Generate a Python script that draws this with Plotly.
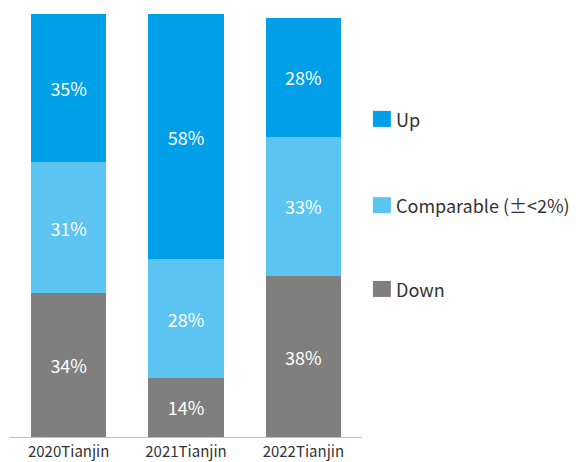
import plotly.graph_objects as go

categories = ["2020Tianjin", "2021Tianjin", "2022Tianjin"]
down = [34, 14, 38]
comparable = [31, 28, 33]
up = [35, 58, 28]
series_names = ["Down", "Comparable (±<2%)", "Up"]
colors = ["#7f7f7f", "#5bc4f1", "#00a0e9"]

FONT = "Noto Sans CJK SC"
fig = go.Figure()
for name, vals, col in zip(series_names, [down, comparable, up], colors):
    fig.add_trace(go.Bar(
        x=categories, y=vals, name=name, marker=dict(color=col, line=dict(width=0)),
        width=0.64, text=[f"{v}%" for v in vals], textposition="inside",
        insidetextanchor="middle", textangle=0,
        textfont=dict(family=FONT, size=18, color="white"),
        showlegend=False, hoverinfo="skip"))

fig.update_layout(
    barmode="stack", width=576, height=462,
    margin=dict(l=10, r=214, t=14, b=25),
    plot_bgcolor="white", paper_bgcolor="white",
    font=dict(family=FONT, size=14, color="#333333"),
    uniformtext=dict(minsize=18, mode="show"),
    xaxis=dict(showline=True, linecolor="#bfbfbf", linewidth=1, ticks="",
               tickfont=dict(family=FONT, size=15, color="#333333"),
               range=[-0.5, 2.5], automargin=False, ticklabelstandoff=1),
    yaxis=dict(range=[0, 100], visible=False, showgrid=False, automargin=False),
)

# legend drawn manually
leg_items = [("Up", colors[2], 0.752), ("Comparable (±<2%)", colors[1], 0.548), ("Down", colors[0], 0.350)]
h = 16 / 423
for label, col, yc in leg_items:
    fig.add_shape(type="rect", xref="paper", yref="paper", x0=1.031, x1=1.082,
                  y0=yc - h / 2, y1=yc + h / 2, fillcolor=col, line=dict(width=0))
    fig.add_annotation(xref="paper", yref="paper", x=1.092, y=yc, text=label,
                       showarrow=False, xanchor="left", yanchor="middle",
                       font=dict(family=FONT, size=18, color="#333333"))

fig.write_html("out.html")
